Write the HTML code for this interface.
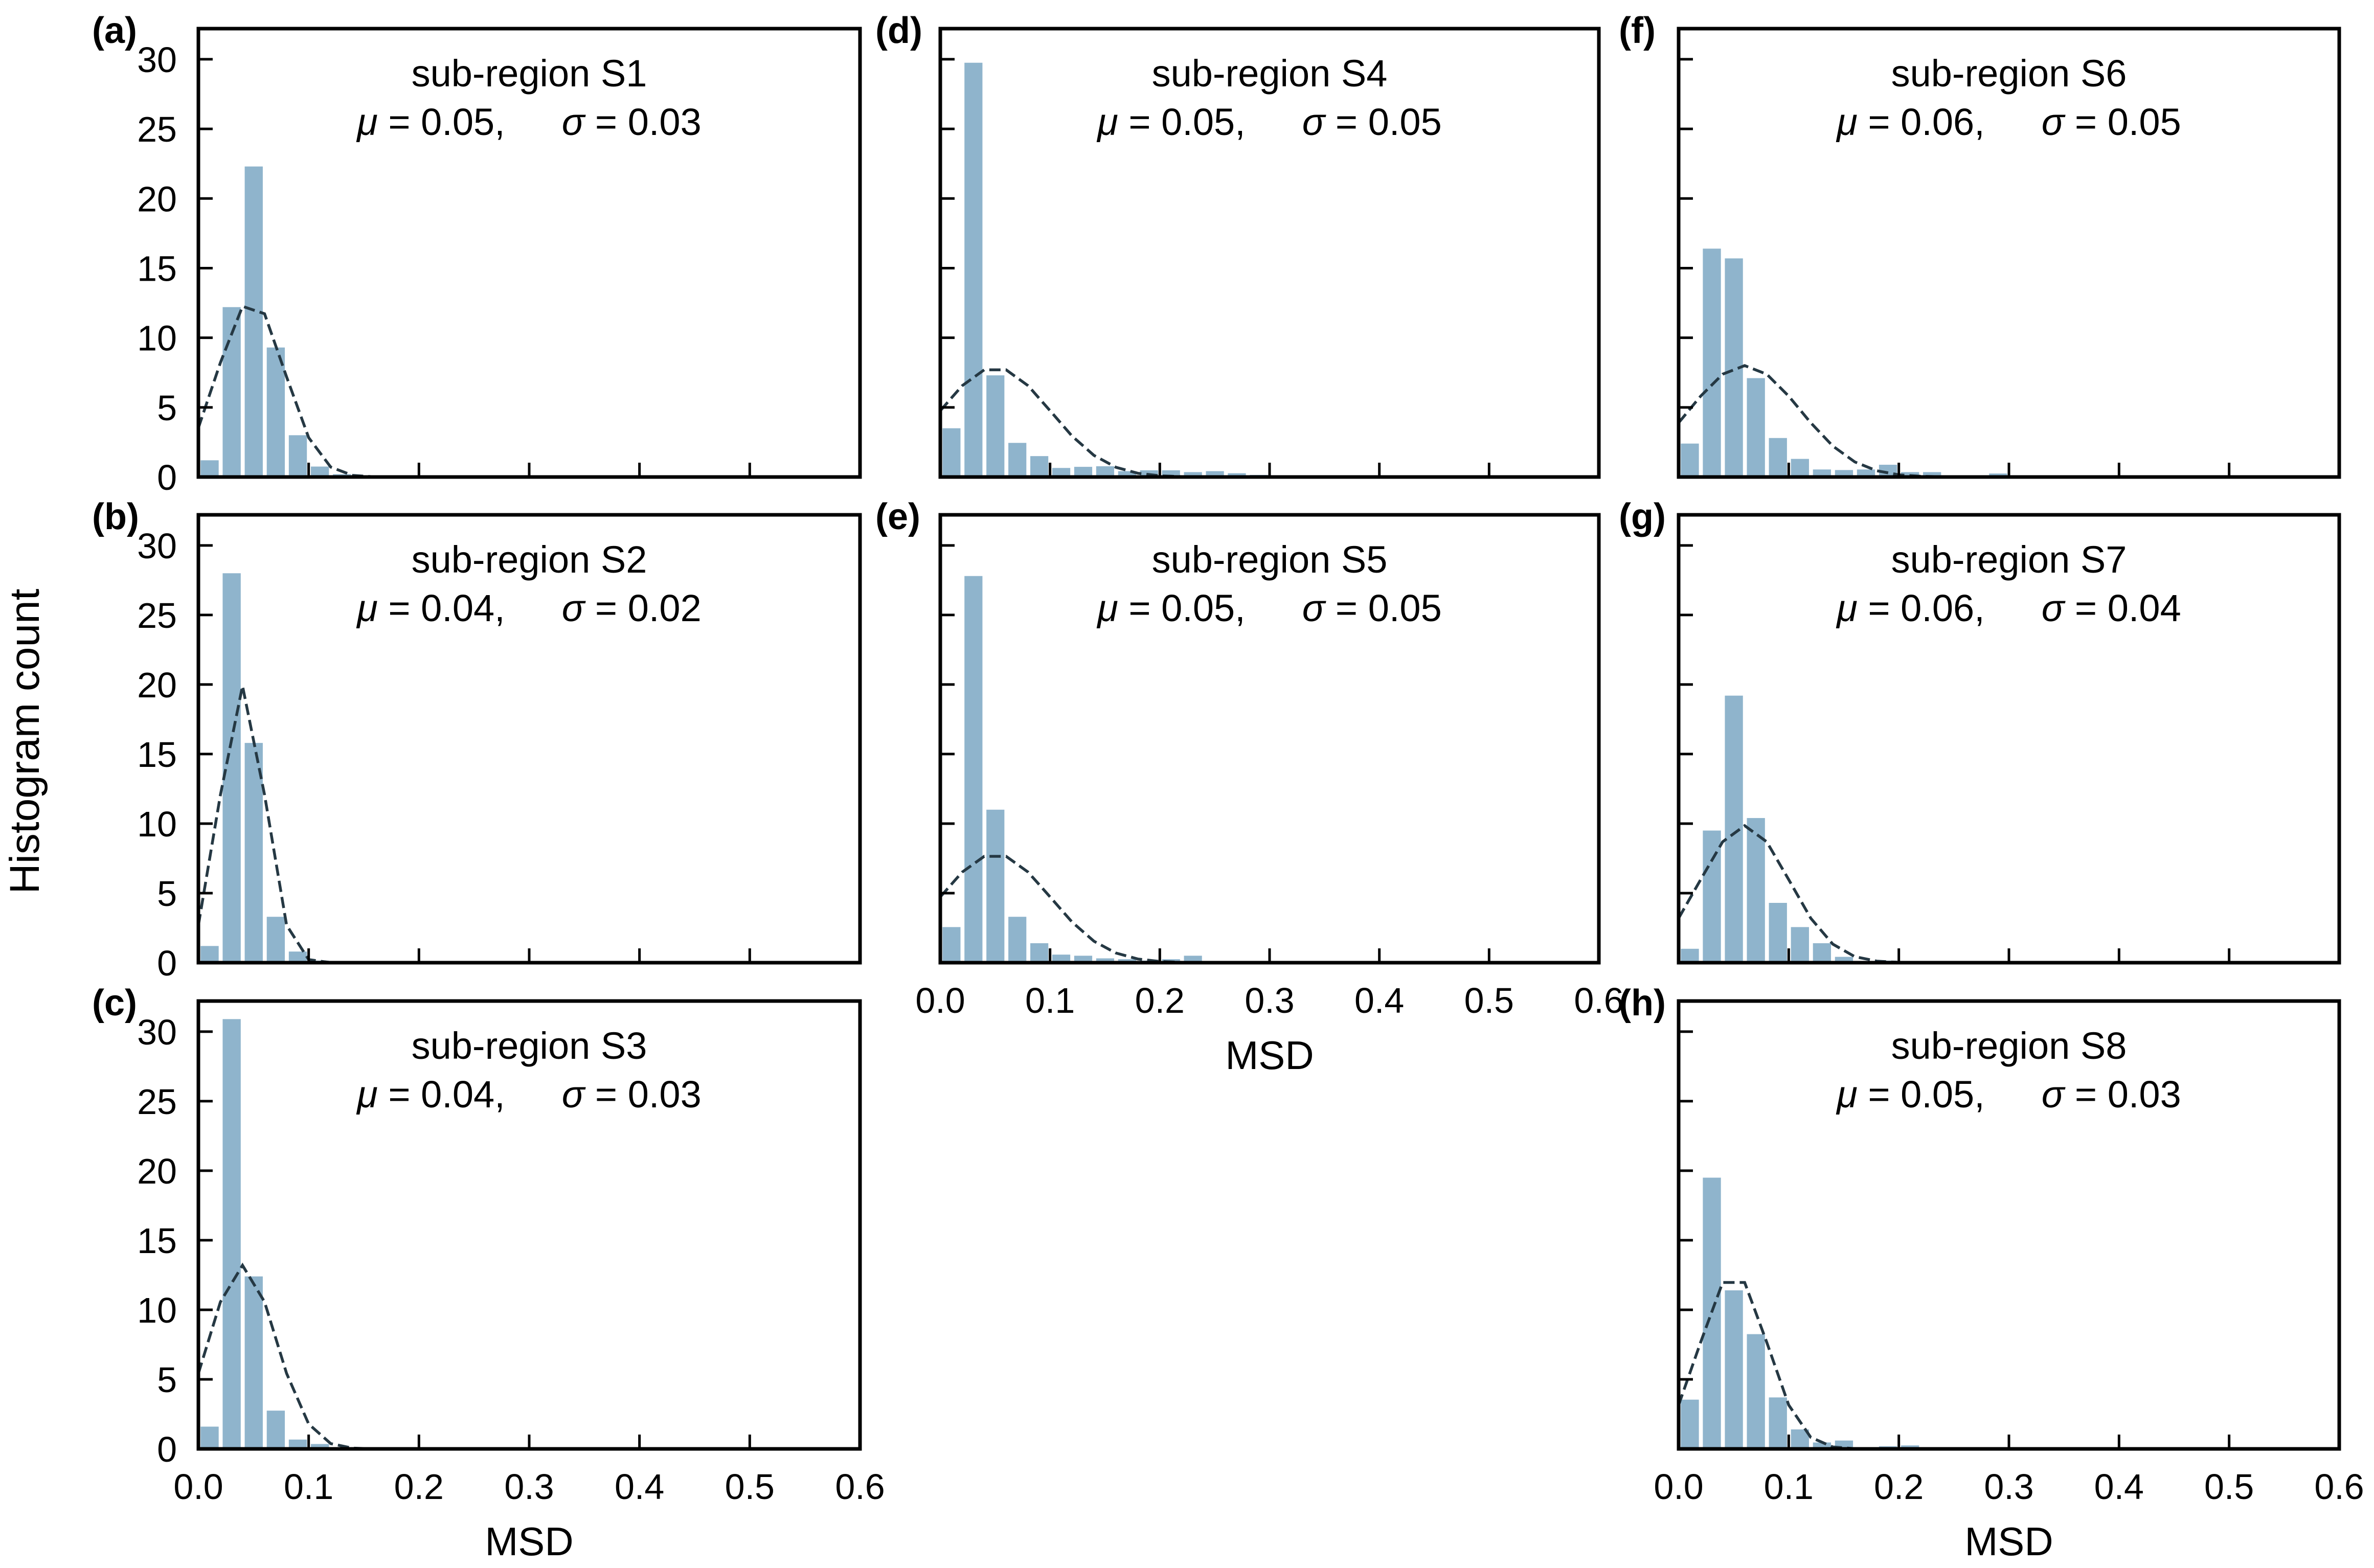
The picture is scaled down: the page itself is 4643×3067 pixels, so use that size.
<!DOCTYPE html>
<html><head><meta charset="utf-8"><style>
html,body{margin:0;padding:0;background:#fff;}
svg{display:block;font-family:"Liberation Sans",Arial,sans-serif;}
</style></head><body>
<svg id="fig" width="4643" height="3067" viewBox="0 0 4643 3067" xmlns="http://www.w3.org/2000/svg">
<rect width="4643" height="3067" fill="#fff"/>
<text x="0" y="0" transform="translate(76,1450) rotate(-90)" text-anchor="middle" font-size="82">Histogram count</text>
</svg>
<script>
const panelNames = ["a","b","c","d","e","f","g","h"];
const regionLabels = ["S1","S2","S3","S4","S5","S6","S7","S8"];
const muLabels = ["0.05","0.04","0.04","0.05","0.05","0.06","0.06","0.05"];
const sigmaLabels = ["0.03","0.02","0.03","0.05","0.05","0.05","0.04","0.03"];
const mus = [0.048,0.04,0.04,0.05,0.05,0.06,0.06,0.05];
const sigmas = [0.03,0.02,0.03,0.05,0.05,0.05,0.04,0.03];
const peaks = [12.7,19.9,13.2,7.85,7.8,8.0,9.85,12.65];
const countsA = [1.2,12.2,22.3,9.3,3.0,0.75,0.2,0.1,0.1];
const countsB = [1.2,28.0,15.8,3.3,0.8,0.15];
const countsC = [1.6,30.9,12.4,2.75,0.67,0.35,0.1,0.1];
const countsD = [3.5,29.75,7.3,2.45,1.5,0.65,0.73,0.77,0.42,0.48,0.48,0.35,0.42,0.27,0.15];
const countsE = [2.56,27.8,11.0,3.3,1.4,0.58,0.5,0.31,0.25,0.15,0.25,0.5,0,0,0,0.05];
const countsF = [2.4,16.4,15.7,7.1,2.8,1.3,0.54,0.5,0.54,0.88,0.35,0.35,0.1,0.1,0.25];
const countsG = [1.0,9.5,19.2,10.4,4.3,2.56,1.4,0.42,0.1,0.15];
const countsH = [3.54,19.5,11.4,8.25,3.7,1.4,0.46,0.6,0,0.19,0.25];
const allCounts = [countsA,countsB,countsC,countsD,countsE,countsF,countsG,countsH];
const binWidth = 0.02;
const xTicks = [0,0.1,0.2,0.3,0.4,0.5,0.6];
const xTickLabels = ["0.0","0.1","0.2","0.3","0.4","0.5","0.6"];
const yTicks = [0,5,10,15,20,25,30];
const yTickLabels = ["0","5","10","15","20","25","30"];
const X_MAX = 0.6, Y_MAX = 32.2;

const NS = "http://www.w3.org/2000/svg";
const svg = document.getElementById("fig");
const colsX = [[388,1682],[1839,3127],[3283,4575]];
const rowsY = [[56,933],[1007,1883],[1958,2834]];
const labelX = [180,1712,3166];
const layout = [[0,0],[0,1],[0,2],[1,0],[1,1],[2,0],[2,1],[2,2]];
const showXLabels = [false,false,true,false,true,false,false,true];
const showYLabels = [true,true,true,false,false,false,false,false];

function mk(tag, attrs, parent){
  const e = document.createElementNS(NS, tag);
  for (const k in attrs) e.setAttribute(k, attrs[k]);
  (parent||svg).appendChild(e);
  return e;
}

panelNames.forEach((pn, i) => {
  const [c, r] = layout[i];
  const L = colsX[c][0], R = colsX[c][1], T = rowsY[r][0], B = rowsY[r][1];
  const xs = v => L + (v / X_MAX) * (R - L);
  const ys = v => B - (v / Y_MAX) * (B - T);
  const g = mk("g", {});
  
  
  const clipId = "clip" + pn;
  const cp = mk("clipPath", {id: clipId}, g);
  mk("rect", {x: L, y: T, width: R - L, height: B - T}, cp);

  allCounts[i].forEach((v, k) => {
    if (v <= 0) return;
    const x0 = xs(k * binWidth), x1 = xs((k + 1) * binWidth);
    const w = x1 - x0;
    const b = mk("rect", {x: x0 + 0.1 * w, y: ys(v), width: 0.82 * w, height: B - ys(v), fill: "#8fb4cc"}, g);
    
    
  });

  const pts = [];
  for (let k = 0; k <= Math.round(X_MAX / binWidth); k++) {
    const x = k * binWidth;
    const y = peaks[i] * Math.exp(-0.5 * Math.pow((x - mus[i]) / sigmas[i], 2));
    pts.push(xs(x).toFixed(1) + "," + ys(y).toFixed(1));
  }
  const pl = mk("polyline", {points: pts.join(" "), fill: "none", stroke: "#253843", "stroke-width": 5.5, "stroke-dasharray": "22,10", "clip-path": "url(#" + clipId + ")"}, g);
  
  

  yTicks.forEach((t, k) => {
    mk("line", {x1: L, x2: L + 28, y1: ys(t), y2: ys(t), stroke: "#000", "stroke-width": 5}, g);
    if (showYLabels[i]) {
      const tl = mk("text", {x: L - 42, y: ys(t) + 25, "text-anchor": "end", "font-size": 70}, g);
      tl.textContent = yTickLabels[k];
      
      
    }
  });
  xTicks.forEach((t, k) => {
    mk("line", {x1: xs(t), x2: xs(t), y1: B, y2: B - 28, stroke: "#000", "stroke-width": 5}, g);
    if (showXLabels[i]) {
      const tl = mk("text", {x: xs(t), y: B + 98, "text-anchor": "middle", "font-size": 70}, g);
      tl.textContent = xTickLabels[k];
      
      
    }
  });
  if (showXLabels[i]) {
    const xl = mk("text", {x: (L + R) / 2, y: B + 208, "text-anchor": "middle", "font-size": 78}, g);
    xl.textContent = "MSD";
    
    
  }

  const fr = mk("rect", {x: L, y: T, width: R - L, height: B - T, fill: "none", stroke: "#000", "stroke-width": 7}, g);
  
  

  const t1 = mk("text", {x: (L + R) / 2, y: T + 113, "text-anchor": "middle", "font-size": 74}, g);
  t1.textContent = "sub-region " + regionLabels[i];
  
  
  const t2 = mk("text", {x: (L + R) / 2, y: T + 208, "text-anchor": "middle", "font-size": 74}, g);
  
  
  t2.innerHTML = '<tspan font-style="italic">μ</tspan> = ' + muLabels[i] + ',\u2003\u2002<tspan font-style="italic">σ</tspan> = ' + sigmaLabels[i];

  const pl2 = mk("text", {x: labelX[c], y: T + 28, "font-size": 72, "font-weight": "bold"}, g);
  pl2.textContent = "(" + pn + ")";
  
  
});
</script>
</body></html>
